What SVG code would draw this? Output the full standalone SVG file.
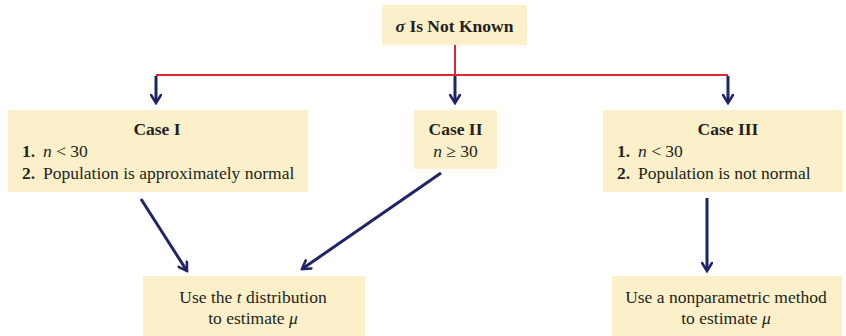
<svg xmlns="http://www.w3.org/2000/svg" width="846" height="336" viewBox="0 0 846 336">
<defs>
<style>
.box{fill:#fcf0cb;stroke:none}
.t{font-family:"Liberation Serif","Times New Roman",serif;font-size:17.5px;fill:#231f20}
.b{font-weight:bold}
.i{font-style:italic}
.red{stroke:#e0262f;stroke-width:2;fill:none}
.nv{stroke:#1f2466;stroke-width:3;fill:none;marker-end:url(#ah)}
</style>
<marker id="ah" viewBox="0 0 12 12" refX="10" refY="6" markerWidth="12" markerHeight="12" markerUnits="userSpaceOnUse" orient="auto">
<path d="M2,1 L10,6 L2,11" fill="none" stroke="#1f2466" stroke-width="2.6" stroke-linecap="round" stroke-linejoin="miter"/>
</marker>
</defs>
<rect width="846" height="336" fill="#ffffff"/>
<g id="connectors">
<path class="red" d="M455,45 V75 M156,75 H728"/>
<line class="nv" x1="156" y1="76" x2="156" y2="103"/>
<line class="nv" x1="455" y1="76" x2="455" y2="103"/>
<line class="nv" x1="728" y1="76" x2="728" y2="103"/>
<line class="nv" x1="141" y1="199" x2="187" y2="271"/>
<line class="nv" x1="441" y1="173" x2="302" y2="269"/>
<line class="nv" x1="707" y1="198" x2="707" y2="271"/>
</g>
<g id="top">
<rect class="box" x="382" y="5" width="145" height="40"/>
<text class="t b" x="454.5" y="32" text-anchor="middle" font-size="18.5"><tspan class="i">σ</tspan> Is Not Known</text>
</g>
<g id="case1">
<rect class="box" x="8" y="110" width="300" height="82"/>
<text class="t b" x="157" y="135" text-anchor="middle">Case I</text>
<text class="t b" x="22" y="157">1.</text>
<text class="t" x="43" y="157"><tspan class="i">n</tspan> &lt; 30</text>
<text class="t b" x="22" y="179">2.</text>
<text class="t" x="43" y="179">Population is approximately normal</text>
</g>
<g id="case2">
<rect class="box" x="414" y="110" width="83" height="59"/>
<text class="t b" x="455.5" y="135" text-anchor="middle">Case II</text>
<text class="t" x="455.5" y="157" text-anchor="middle"><tspan class="i">n</tspan> ≥ 30</text>
</g>
<g id="case3">
<rect class="box" x="603" y="110" width="240" height="82"/>
<text class="t b" x="728" y="135" text-anchor="middle">Case III</text>
<text class="t b" x="617" y="157">1.</text>
<text class="t" x="638" y="157"><tspan class="i">n</tspan> &lt; 30</text>
<text class="t b" x="617" y="179">2.</text>
<text class="t" x="638" y="179">Population is not normal</text>
</g>
<g id="tdist">
<rect class="box" x="143" y="276" width="222" height="60"/>
<text class="t" x="253" y="303" text-anchor="middle" font-size="18">Use the <tspan class="i">t</tspan> distribution</text>
<text class="t" x="253" y="324" text-anchor="middle" font-size="18">to estimate <tspan class="i">μ</tspan></text>
</g>
<g id="nonparam">
<rect class="box" x="612" y="276" width="230" height="60"/>
<text class="t" x="726" y="303" text-anchor="middle" font-size="19">Use a nonparametric method</text>
<text class="t" x="726" y="324" text-anchor="middle" font-size="19">to estimate <tspan class="i">μ</tspan></text>
</g>
</svg>
